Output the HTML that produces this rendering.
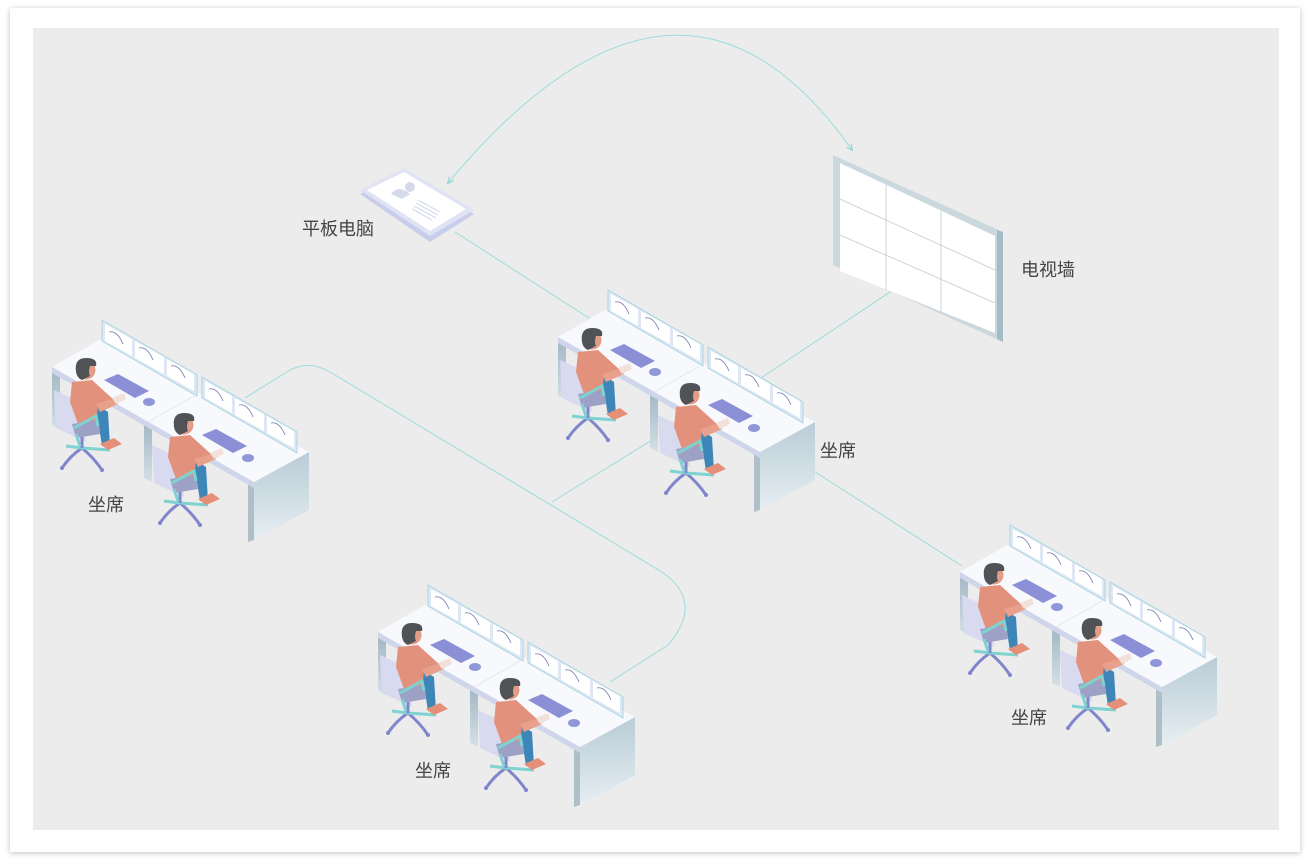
<!DOCTYPE html>
<html><head><meta charset="utf-8"><style>
html,body{margin:0;padding:0;background:#fff;width:1312px;height:868px;overflow:hidden}
svg{display:block}
text{font-family:"Liberation Sans","Noto Sans CJK SC",sans-serif;font-size:18px;fill:#444}
</style></head><body>
<svg width="1312" height="868" viewBox="0 0 1312 868" xmlns="http://www.w3.org/2000/svg">
<defs>
<filter id="sh" x="-5%" y="-5%" width="110%" height="110%"><feDropShadow dx="0" dy="1" stdDeviation="3" flood-color="#000" flood-opacity="0.25"/></filter>
<linearGradient id="side" x1="0" y1="0" x2="0" y2="1"><stop offset="0" stop-color="#b9ccd6"/><stop offset="1" stop-color="#e6eef2"/></linearGradient>
<linearGradient id="leg" x1="0" y1="0" x2="0" y2="1"><stop offset="0" stop-color="#9fb6c2"/><stop offset="1" stop-color="#d4e0e6"/></linearGradient>
<marker id="ar" viewBox="0 0 10 10" refX="8" refY="5" markerWidth="7" markerHeight="7" orient="auto-start-reverse"><path d="M0,1 L9,5 L0,9" fill="none" stroke="#8fd3d6" stroke-width="1.5"/></marker>
<g id="mon">
<polygon points="0,0 95,55 95,76 0,21" fill="#dfe7f4" stroke="#a9d6e0" stroke-width="1"/>
<polygon points="3,4 30,19 30,36 3,21" fill="#fff"/>
<polygon points="33,21 62,37 62,54 33,38" fill="#fff"/>
<polygon points="65,39 92,54 92,71 65,56" fill="#fff"/>
<path d="M7,12 q8,-2 14,12 M37,28 q8,-2 14,12 M69,46 q8,-2 14,12" fill="none" stroke="#6d76a8" stroke-width="0.8"/>
</g>
<g id="person">
<polygon points="2,70 32,84 34,122 4,108" fill="#d8daf0"/>
<path d="M30,128 Q18,136 10,148 M30,128 Q42,138 50,150" stroke="#7f86cc" stroke-width="3" fill="none"/>
<path d="M30,128 L58,130 M30,128 L14,126" stroke="#7ed2cf" stroke-width="3" fill="none"/>
<path d="M30,112 L30,128" stroke="#7f86cc" stroke-width="3"/>
<circle cx="10" cy="148" r="2" fill="#7f86cc"/><circle cx="50" cy="150" r="2" fill="#7f86cc"/>
<polygon points="34,78 56,92 58,126 50,126 46,100 34,98" fill="#3f86b8"/>
<polygon points="48,124 62,118 70,124 56,130" fill="#e58f78"/>
<polygon points="20,62 40,60 62,80 58,88 46,84 44,108 26,104 18,82" fill="#e2917c"/>
<polygon points="44,84 64,78 66,84 48,92" fill="#e8a08c"/>
<polygon points="60,78 72,73 74,79 64,84" fill="#f2e0da"/>
<polygon points="20,104 46,100 48,114 24,118" fill="#9ea1c6"/>
<path d="M22,108 L44,96 L46,106 M24,114 L28,126" stroke="#7ed2cf" stroke-width="3" fill="none"/>
<circle cx="34" cy="50" r="9.5" fill="#e39c86"/>
<path d="M24,52 Q22,38 34,38 Q46,38 44,46 L38,46 Q36,52 38,56 L30,60 Q25,58 24,52Z" fill="#505255"/>
</g>
<g id="st">
<polygon points="0,47 8,51 8,110 0,105" fill="url(#leg)"/>
<polygon points="92,100 100,104 100,162 92,158" fill="url(#leg)"/>
<polygon points="196,165 202,162 202,220 196,222" fill="#aebfc8"/>
<polygon points="202,162 257,132 257,190 202,220" fill="url(#side)"/>
<polygon points="0,47 202,162 202,168 0,53" fill="#cfd5ea"/>
<polygon points="0,47 47,20 257,132 202,162" fill="#f8f9fc"/>
<line x1="96" y1="102" x2="142" y2="76" stroke="#e4e7f0" stroke-width="1"/>
<use href="#mon" x="50" y="0"/>
<use href="#mon" x="150" y="57"/>
<polygon points="52,60 66,54 97,71 83,78" fill="#8a8fd6"/>
<ellipse cx="97" cy="82" rx="6" ry="4" fill="#9097d8"/>
<polygon points="150,115 164,109 195,126 181,133" fill="#8a8fd6"/>
<ellipse cx="196" cy="138" rx="6" ry="4" fill="#9097d8"/>
<use href="#person" x="0" y="0"/>
<use href="#person" x="98" y="55"/>
</g>
</defs>
<rect x="10" y="8" width="1290" height="844" fill="#fff" filter="url(#sh)"/>
<rect x="33" y="28" width="1246" height="802" fill="#ececec"/>
<g fill="none" stroke="#9adcdc" stroke-width="1">
<path d="M448,183 Q680,-95 852,150" marker-start="url(#ar)" marker-end="url(#ar)"/>
<path d="M455,232 L592,320"/>
<path d="M893,290 L758,380"/>
<path d="M552,502 L652,440"/>
<path d="M245,398 L290,370 Q310,360 330,372 L662,572 Q705,602 668,645 L610,682"/>
<path d="M812,470 L962,566"/>
</g>
<polygon points="360,194 404,172 474,214 430,242" fill="#c9cdec"/>
<polygon points="360,190 404,168 474,210 430,236" fill="#dfe3f4"/>
<polygon points="367,190 404,172 466,209 430,231" fill="#fff"/>
<circle cx="410" cy="187" r="5" fill="#d4daea"/>
<path d="M391,194 Q398,184 410,194 L402,199Z" fill="#d4daea"/>
<path d="M418,200 L440,212 M416,203 L438,215 M414,206 L436,218 M412,209 L432,220" stroke="#d4daea" stroke-width="1.2"/>
<polygon points="833,155 1003,232 1003,342 833,265" fill="#cbd8de"/>
<polygon points="997,230 1003,232 1003,342 997,339" fill="#a4bcc6"/>
<polygon points="840,163 995,236 995,333 840,271" fill="#fff"/>
<path d="M886,185 L886,290 M941,211 L941,312 M840,199 L995,270 M840,235 L995,303" stroke="#c7c9cc" stroke-width="0.8" fill="none"/>
<use href="#st" x="52" y="320"/>
<use href="#st" x="558" y="290"/>
<use href="#st" x="378" y="585"/>
<use href="#st" x="960" y="525"/>
<text x="302" y="235">平板电脑</text>
<text x="1021" y="276">电视墙</text>
<text x="88" y="511">坐席</text>
<text x="820" y="457">坐席</text>
<text x="415" y="777">坐席</text>
<text x="1011" y="724">坐席</text>
</svg>
</body></html>
